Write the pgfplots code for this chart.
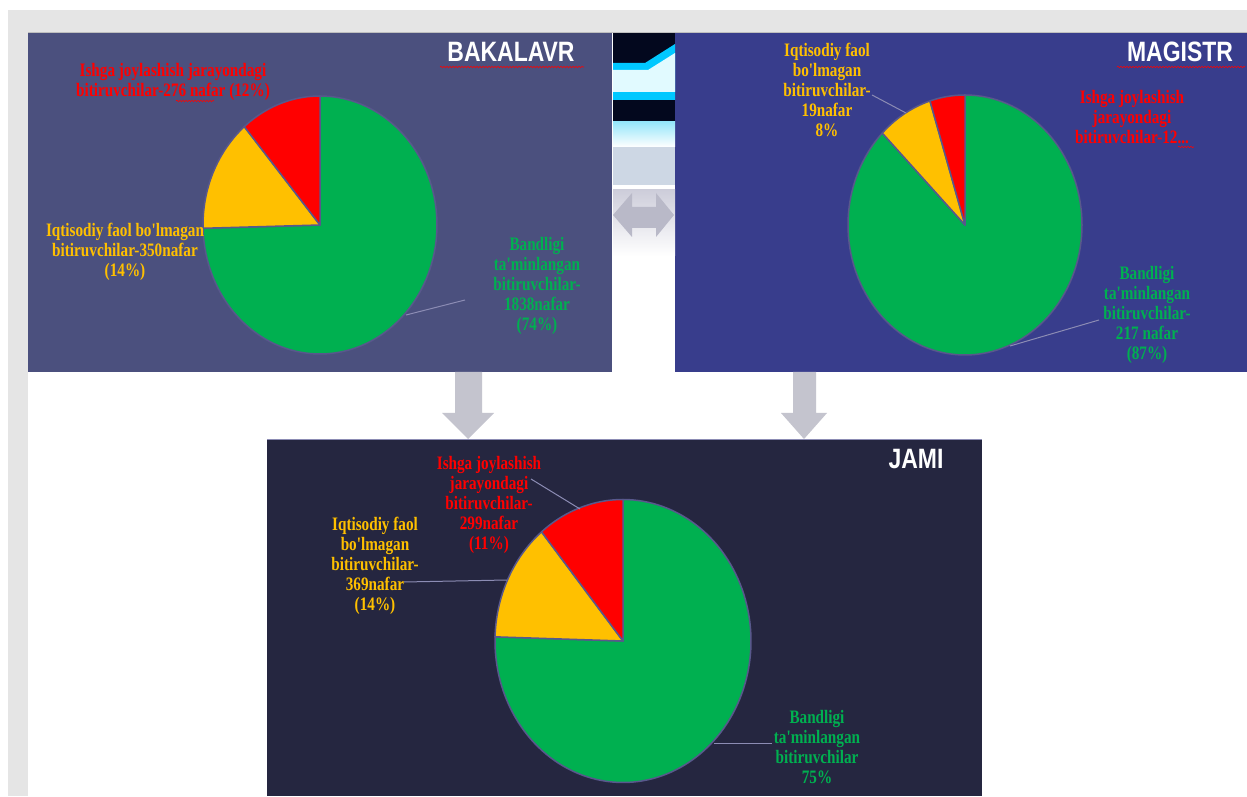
\documentclass[border=0pt]{standalone}
\usepackage{pgfplots}
\pgfplotsset{compat=1.18}
\usetikzlibrary{decorations.pathmorphing}
\usepackage{fontspec}
\setmainfont{Liberation Serif}
\newfontfamily\lab{Liberation Serif}[FakeStretch=0.8]
\newfontfamily\tit{Liberation Sans}[FakeStretch=0.82]
\definecolor{cgreen}{RGB}{0,176,80}
\definecolor{cyellow}{RGB}{255,192,0}
\definecolor{cred}{RGB}{255,0,0}
\definecolor{bakbg}{RGB}{75,80,126}
\definecolor{magbg}{RGB}{56,61,140}
\definecolor{jambg}{RGB}{37,38,64}
\definecolor{edge}{RGB}{88,88,140}
\definecolor{leader}{RGB}{140,140,180}
\definecolor{arrowg}{RGB}{196,196,206}
\definecolor{dnavy}{RGB}{3,8,30}
\definecolor{cyanb}{RGB}{0,200,255}
\definecolor{cyanw}{RGB}{225,250,255}
\definecolor{cyanl}{RGB}{150,230,250}
\definecolor{gblue}{RGB}{205,215,228}
\definecolor{glav}{RGB}{205,205,218}
\definecolor{garrow}{RGB}{185,185,200}
\pgfplotsset{piestyle/.style={scale only axis, hide axis, xmin=-1,xmax=1,ymin=-1,ymax=1, anchor=center, clip=false},
  slice/.style={draw=edge, line width=1.5pt, samples=120, line join=round}}
\tikzset{lbl/.style={align=center, font=\lab\bfseries\fontsize{19}{20}\selectfont, inner sep=0pt},
  ttl/.style={font=\tit\bfseries\fontsize{28}{30}\selectfont, text=white, inner sep=0pt, anchor=base},
  squig/.style={cred, line width=0.6pt, decorate, decoration={snake, amplitude=0.7pt, segment length=3pt}},
  ldr/.style={leader, line width=1pt}}
% data (graduates): green = employed, yellow = economically inactive, red = in job search
\def\BakG{1838}\def\BakY{350}\def\BakR{276}
\def\MagG{217}\def\MagY{19}\def\MagR{12}
\def\JamG{2055}\def\JamY{369}\def\JamR{299}
\begin{document}
\begin{tikzpicture}[x=1pt,y=1pt]
\useasboundingbox (0,0) rectangle (1247,796);
\fill[white] (0,0) rectangle (1247,796);
\fill[black!10] (8,0) rectangle (1247,786);
\fill[white] (28,0) rectangle (1247,763);
% panels
\fill[bakbg] (28,424) rectangle (612,763);
\fill[magbg] (675,424) rectangle (1247,763);
\fill[jambg] (267,0) rectangle (982,356);
\draw[black!25, line width=1pt] (28,763) -- (1247,763);
\draw[leader, line width=1pt] (267,356) -- (982,356);
% middle decoration
\fill[white] (613,424) rectangle (675,763);
\fill[dnavy] (613,674) rectangle (675,763);
\fill[cyanb] (613,733) -- (645,733) -- (675,752) -- (675,696) -- (613,696) -- cycle;
\fill[cyanw] (613,726) -- (648,726) -- (675,743) -- (675,704) -- (613,704) -- cycle;
\shade[top color=cyanl, bottom color=white] (613,674) rectangle (675,649);
\fill[gblue] (613,649) rectangle (675,611);
\shade[top color=glav, bottom color=white] (613,606) rectangle (675,540);
\fill[garrow] (613,581) -- (632,603) -- (632,589) -- (656,589) -- (656,603) -- (674,581) -- (656,559) -- (656,568) -- (632,568) -- (632,559) -- cycle;
% down arrows
\fill[arrowg] (455,424) -- (482,424) -- (482,383) -- (494,383) -- (468,357) -- (442,383) -- (455,383) -- cycle;
\fill[arrowg] (793,424) -- (816,424) -- (816,383) -- (827,383) -- (804,357) -- (781,383) -- (793,383) -- cycle;
% BAKALAVR pie
\pgfmathsetmacro\Ta{\BakG+\BakY+\BakR}
\pgfmathsetmacro\Ara{90+360*(\BakR/\Ta)}
\pgfmathsetmacro\Aya{\Ara+360*(\BakY/\Ta)}
\begin{axis}[piestyle, at={(320pt,571pt)}, width=234pt, height=258pt]
\addplot[slice, fill=cgreen, domain=\Aya:450] ({cos(x)},{sin(x)}) -- (axis cs:0,0) -- cycle;
\addplot[slice, fill=cyellow, domain=\Ara:\Aya] ({cos(x)},{sin(x)}) -- (axis cs:0,0) -- cycle;
\addplot[slice, fill=cred, domain=90:\Ara] ({cos(x)},{sin(x)}) -- (axis cs:0,0) -- cycle;
\end{axis}
% MAGISTR pie
\pgfmathsetmacro\Tb{\MagG+\MagY+\MagR}
\pgfmathsetmacro\Arb{90+360*(\MagR/\Tb)}
\pgfmathsetmacro\Ayb{\Arb+360*(\MagY/\Tb)}
\begin{axis}[piestyle, at={(965pt,571pt)}, width=234pt, height=260pt]
\addplot[slice, fill=cgreen, domain=\Ayb:450] ({cos(x)},{sin(x)}) -- (axis cs:0,0) -- cycle;
\addplot[slice, fill=cyellow, domain=\Arb:\Ayb] ({cos(x)},{sin(x)}) -- (axis cs:0,0) -- cycle;
\addplot[slice, fill=cred, domain=90:\Arb] ({cos(x)},{sin(x)}) -- (axis cs:0,0) -- cycle;
\end{axis}
% JAMI pie
\pgfmathsetmacro\Tc{\JamG+\JamY+\JamR}
\pgfmathsetmacro\Arc{90+360*(\JamR/\Tc)}
\pgfmathsetmacro\Ayc{\Arc+360*(\JamY/\Tc)}
\begin{axis}[piestyle, at={(623pt,155pt)}, width=256pt, height=283pt]
\addplot[slice, fill=cgreen, domain=\Ayc:450] ({cos(x)},{sin(x)}) -- (axis cs:0,0) -- cycle;
\addplot[slice, fill=cyellow, domain=\Arc:\Ayc] ({cos(x)},{sin(x)}) -- (axis cs:0,0) -- cycle;
\addplot[slice, fill=cred, domain=90:\Arc] ({cos(x)},{sin(x)}) -- (axis cs:0,0) -- cycle;
\end{axis}
% titles
\node[ttl] at (511,734) {BAKALAVR};
\node[ttl] at (1180,734) {MAGISTR};
\node[ttl] at (916,327) {JAMI};
\draw[squig] (440,729) -- (584,729);
\draw[squig] (1117,729) -- (1245,729);
% leader lines
\draw[ldr] (406,481) -- (465,496);
\draw[ldr] (872,701) -- (906,683);
\draw[ldr] (1010,450) -- (1099,476);
\draw[ldr] (531,317) -- (580,287);
\draw[ldr] (404,214) -- (507,216);
\draw[ldr] (714,53) -- (772,53);
% labels
\node[lbl, text=cred] at (173,714) {Ishga joylashish jarayondagi\\bitiruvchilar-276 nafar (12\%)};
\draw[squig] (176,695) -- (214,695);
\node[lbl, text=cyellow] at (125,544) {Iqtisodiy faol bo'lmagan\\bitiruvchilar-350nafar\\(14\%)};
\node[lbl, text=cgreen] at (537,510) {Bandligi\\ta'minlangan\\bitiruvchilar-\\1838nafar\\(74\%)};
\node[lbl, text=cyellow] at (827,706) {Iqtisodiy faol\\bo'lmagan\\bitiruvchilar-\\19nafar\\8\%};
\node[lbl, text=cred] at (1132,679) {Ishga joylashish\\jarayondagi\\bitiruvchilar-12...};
\draw[squig] (1178,649) -- (1194,649);
\node[lbl, text=cgreen] at (1147,481) {Bandligi\\ta'minlangan\\bitiruvchilar-\\217 nafar\\(87\%)};
\node[lbl, text=cred] at (489,291) {Ishga joylashish\\jarayondagi\\bitiruvchilar-\\299nafar\\(11\%)};
\node[lbl, text=cyellow] at (375,230) {Iqtisodiy faol\\bo'lmagan\\bitiruvchilar-\\369nafar\\(14\%)};
\node[lbl, text=cgreen] at (817,49) {Bandligi\\ta'minlangan\\bitiruvchilar\\75\%};
\end{tikzpicture}
\end{document}
